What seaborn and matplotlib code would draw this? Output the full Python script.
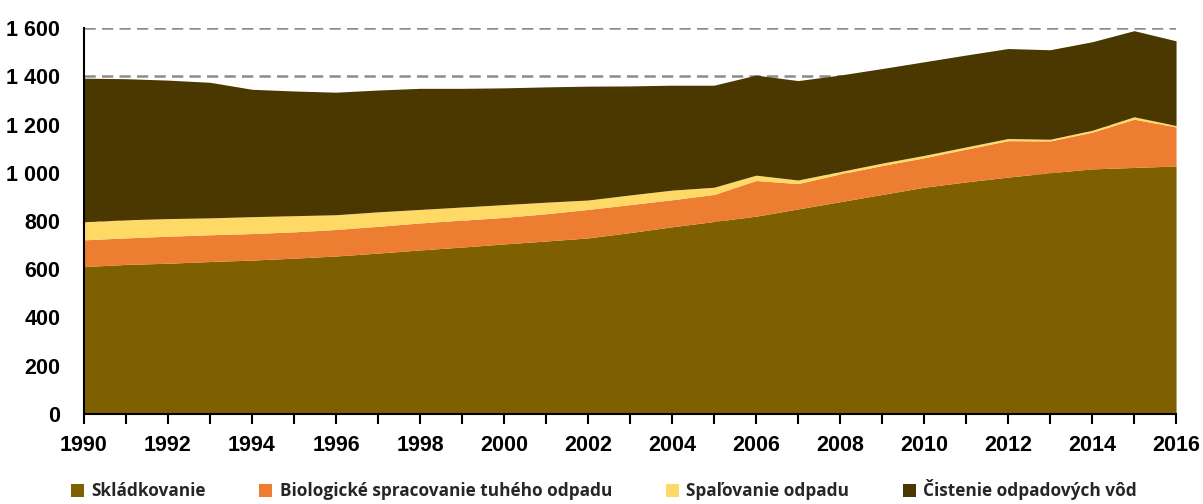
import numpy as np
import matplotlib
matplotlib.use("Agg")
import matplotlib.pyplot as plt
import seaborn as sns
from matplotlib.ticker import FuncFormatter, MultipleLocator

years = list(range(1990, 2017))

# hodnoty odčítané z grafu (kumulatívne hranice vrstiev)
skladkovanie = [611, 620, 625, 632, 638, 646, 655, 667, 680, 692, 705, 717, 730, 752,
                776, 798, 820, 850, 880, 910, 940, 962, 982, 1000, 1016, 1022, 1028]
bio_top = [722, 730, 737, 743, 748, 755, 765, 778, 792, 803, 815, 830, 848, 868,
           888, 910, 968, 955, 995, 1030, 1062, 1098, 1133, 1132, 1168, 1222, 1190]
spal_top = [797, 805, 810, 813, 818, 822, 826, 838, 848, 858, 868, 878, 887, 908,
            928, 940, 990, 970, 1005, 1040, 1072, 1107, 1142, 1139, 1176, 1232, 1196]
total = [1392, 1390, 1384, 1375, 1346, 1339, 1334, 1343, 1350, 1350, 1352, 1356, 1359, 1360,
         1363, 1363, 1405, 1382, 1405, 1432, 1460, 1488, 1515, 1510, 1543, 1589, 1547]

labels = ["Skládkovanie", "Biologické spracovanie tuhého odpadu",
          "Spaľovanie odpadu", "Čistenie odpadových vôd"]
colors = ["#7F6000", "#ED7D31", "#FFD966", "#4A3800"]

s = np.array(skladkovanie)
b = np.array(bio_top) - s
y = np.array(spal_top) - np.array(bio_top)
c = np.array(total) - np.array(spal_top)

sns.set_theme(style="white")
plt.rcParams["font.family"] = ["Liberation Sans", "DejaVu Sans"]

fig = plt.figure(figsize=(12.03, 5.04), dpi=100)
ax = fig.add_axes([0.0698, 0.1786, 0.9078, 0.7658])

ax.stackplot(years, s, b, y, c, colors=colors, labels=labels, linewidth=0)

ax.set_xlim(1990, 2016)
ax.set_ylim(0, 1600)
ax.set_axisbelow(True)
ax.yaxis.grid(True, color="#8c8c8c", linestyle=(0, (4.5, 2.5)), linewidth=1.8)
ax.xaxis.grid(False)

ax.xaxis.set_major_locator(MultipleLocator(2))
ax.xaxis.set_minor_locator(MultipleLocator(1))
ax.yaxis.set_major_locator(MultipleLocator(200))
ax.yaxis.set_major_formatter(FuncFormatter(lambda v, p: f"{int(v):,}".replace(",", " ")))

for sp in ["top", "right"]:
    ax.spines[sp].set_visible(False)
for sp in ["left", "bottom"]:
    ax.spines[sp].set_color("black")
    ax.spines[sp].set_linewidth(1.5)

ax.tick_params(axis="x", which="both", direction="out", length=7, width=1.5,
               color="black", bottom=True, pad=8)
ax.tick_params(axis="y", length=0, pad=17)
for lab in ax.get_xticklabels() + ax.get_yticklabels():
    lab.set_fontsize(15.5)
    lab.set_fontweight("bold")
    lab.set_color("black")

handles, lbls = ax.get_legend_handles_labels()
fig.legend(handles, lbls, loc="center", bbox_to_anchor=(0.502, 0.028), ncol=4,
           frameon=False, handlelength=0.75, handleheight=0.75, handletextpad=0.45,
           columnspacing=3.1, prop={"family": ["Open Sans", "DejaVu Sans"],
                                    "weight": "bold", "size": 12.4})

fig.savefig("out.png", dpi=100)
